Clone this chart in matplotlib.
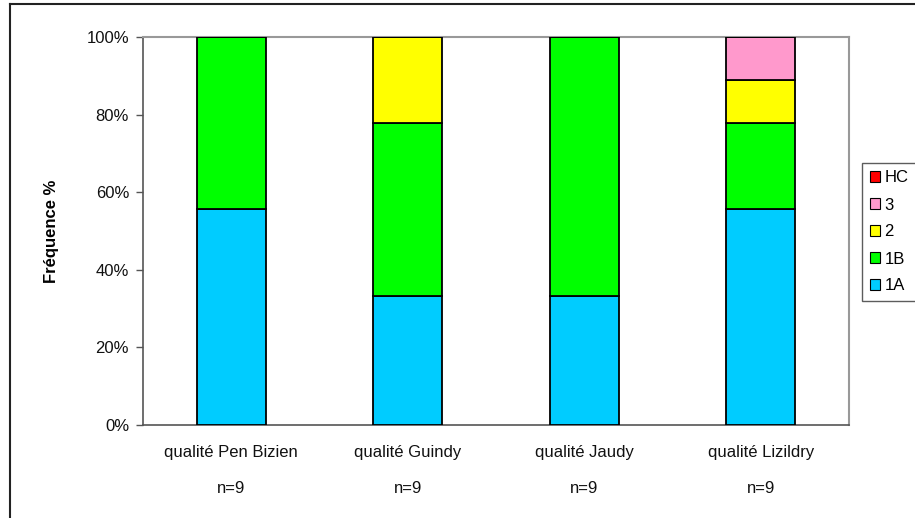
import matplotlib
matplotlib.use("Agg")
import matplotlib.pyplot as plt
from matplotlib.lines import Line2D
from matplotlib.patches import Patch
import numpy as np

plt.rcParams['font.family'] = ['Liberation Sans', 'DejaVu Sans']

categories = ["qualité Pen Bizien", "qualité Guindy", "qualité Jaudy", "qualité Lizildry"]
sample_sizes = ["n=9", "n=9", "n=9", "n=9"]
classes = ["1A", "1B", "2", "3", "HC"]
counts_1A = [5, 3, 3, 5]
counts_1B = [4, 4, 6, 2]
counts_2 = [0, 2, 0, 1]
counts_3 = [0, 0, 0, 1]
counts_HC = [0, 0, 0, 0]
colors = ["#00CCFF", "#00FF00", "#FFFF00", "#FF99CC", "#FF0000"]
yticks = [0, 20, 40, 60, 80, 100]

series = [counts_1A, counts_1B, counts_2, counts_3, counts_HC]
data = np.array(series, dtype=float)
totals = data.sum(axis=0)
pct = data / totals * 100

FS = 12

fig = plt.figure(figsize=(9.15, 5.18), dpi=100)
ax = fig.add_axes([143/915, 1 - 425/518, (849-143)/915, (425-37)/518])

x = np.arange(len(categories))
bottom = np.zeros(len(categories))
for vals, col in zip(pct, colors):
    ax.bar(x, vals, bottom=bottom, width=0.39, color=col,
           edgecolor="black", linewidth=1.3, zorder=3)
    bottom += vals

ax.set_xlim(-0.5, len(categories) - 0.5)
ax.set_ylim(0, 100)
ax.set_yticks(yticks)
ax.set_yticklabels([f"{t}%" for t in yticks], fontsize=FS, color="#111111")
ax.tick_params(axis="y", direction="out", length=5, width=1, color="#555555", pad=5)
ax.set_xticks(x)
ax.set_xticklabels([])
ax.tick_params(axis="x", length=0)

for xi, cat, n in zip(x, categories, sample_sizes):
    ax.text(xi, -7, cat, ha="center", va="center", fontsize=FS, color="#111111",
            transform=ax.transData, clip_on=False)
    ax.text(xi, -16.3, n, ha="center", va="center", fontsize=FS, color="#111111",
            transform=ax.transData, clip_on=False)

for side in ["top", "right"]:
    ax.spines[side].set_color("#999999")
    ax.spines[side].set_linewidth(1.5)
for side in ["left", "bottom"]:
    ax.spines[side].set_color("#555555")
    ax.spines[side].set_linewidth(1.2)

ax.set_ylabel("Fréquence %", fontsize=FS, fontweight="bold", labelpad=20)

handles = [Patch(facecolor=c, edgecolor="black", linewidth=0.8, label=l)
           for c, l in zip(colors, classes)][::-1]
leg = fig.legend(handles=handles, loc="center left",
                 bbox_to_anchor=(862/915, 1 - 232/518),
                 fontsize=FS, frameon=True, fancybox=False,
                 handlelength=0.65, handleheight=0.65, handletextpad=0.25,
                 labelspacing=0.72, borderpad=0.45, borderaxespad=0)
leg.get_frame().set_edgecolor("#333333")
leg.get_frame().set_linewidth(1.0)

# outer frame (top and left edges)
fig.add_artist(Line2D([10/915, 1], [1 - 4/518, 1 - 4/518], color="#222222", linewidth=1.5,
                      transform=fig.transFigure))
fig.add_artist(Line2D([10/915, 10/915], [0, 1 - 4/518], color="#222222", linewidth=1.5,
                      transform=fig.transFigure))

fig.savefig("out.png", dpi=100, facecolor="white")
